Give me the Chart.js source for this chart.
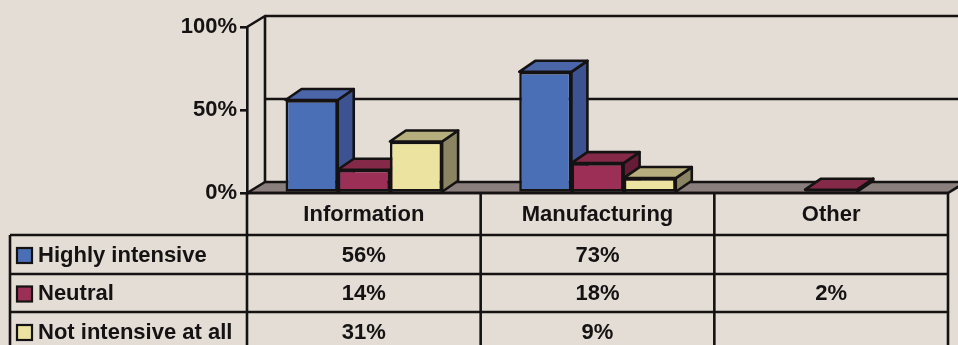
<!DOCTYPE html>
<html>
<head>
<meta charset="utf-8">
<script src="https://cdn.jsdelivr.net/npm/chart.js@4.4.0/dist/chart.umd.min.js"></script>
<style>
  html, body { margin: 0; padding: 0; background: #e4ddd5; }
  #wrap { width: 958px; height: 345px; }
</style>
</head>
<body>
<div id="wrap"><canvas id="barChart" width="958" height="345"></canvas></div>
<script>
    "use strict";

    var categories = ["Information", "Manufacturing", "Other"];
    var seriesNames = ["Highly intensive", "Neutral", "Not intensive at all"];
    var highlyIntensive = [56, 73, null];
    var neutral = [14, 18, 2];
    var notIntensive = [31, 9, null];
    var yTicks = [0, 50, 100];

    var ink = "#141212";
    var lw = 2.6;
    var font = "bold 22px 'Liberation Sans', Arial, sans-serif";
    // front, top, side
    var palette = [
        ["#4b6fb6", "#4a65a8", "#3d5290"],
        ["#9b2f55", "#842947", "#661c36"],
        ["#ebe39f", "#b6ae7d", "#8b8462"]
    ];
    var depth = { dx: 16, dy: 11 };
    var wall = { dx: 18, dy: 11 };

    function poly(ctx, pts, fill) {
        ctx.beginPath();
        ctx.moveTo(pts[0][0], pts[0][1]);
        for (var i = 1; i < pts.length; i++) ctx.lineTo(pts[i][0], pts[i][1]);
        ctx.closePath();
        if (fill) { ctx.fillStyle = fill; ctx.fill(); }
        ctx.stroke();
    }

    var frame3d = {
        id: "frame3d",
        beforeDatasetsDraw: function (chart) {
            var ctx = chart.ctx, a = chart.chartArea, ys = chart.scales.y;
            var y0 = ys.getPixelForValue(0);
            ctx.save();
            ctx.strokeStyle = ink;
            ctx.lineWidth = lw;
            ctx.lineJoin = "round";
            // floor
            poly(ctx, [[a.left, y0], [a.left + wall.dx, y0 - wall.dy],
                [a.right + wall.dx, y0 - wall.dy], [a.right, y0]], "#8a7f7d");
            // back grid lines
            yTicks.forEach(function (t) {
                if (t === 0) return;
                var y = ys.getPixelForValue(t) - wall.dy;
                ctx.beginPath();
                ctx.moveTo(a.left + wall.dx, y);
                ctx.lineTo(chart.width, y);
                ctx.stroke();
            });
            // side wall
            var yTop = ys.getPixelForValue(100);
            ctx.beginPath();
            ctx.moveTo(a.left + wall.dx, y0 - wall.dy);
            ctx.lineTo(a.left + wall.dx, yTop - wall.dy);
            ctx.lineTo(a.left, yTop);
            ctx.stroke();

            // bar top and side faces
            chart.data.datasets.forEach(function (ds, di) {
                var meta = chart.getDatasetMeta(di);
                meta.data.forEach(function (bar, i) {
                    if (ds.data[i] == null) return;
                    var p = bar.getProps(["x", "y", "base", "width"], true);
                    var l = p.x - p.width / 2, r = p.x + p.width / 2;
                    var dx = depth.dx, dy = depth.dy;
                    poly(ctx, [[r, p.y], [r + dx, p.y - dy], [r + dx, p.base - dy], [r, p.base]], palette[di][2]);
                    poly(ctx, [[l, p.y], [l + dx, p.y - dy], [r + dx, p.y - dy], [r, p.y]], palette[di][1]);
                });
            });
            ctx.restore();
        },
        afterDraw: function (chart) {
            var ctx = chart.ctx, a = chart.chartArea, xs = chart.scales.x;
            var top = chart.scales.y.getPixelForValue(0);
            var rows = [top, 235, 274, 312, 351];
            var cw = (a.right - a.left) / categories.length;
            var legendLeft = 10;
            ctx.save();
            ctx.strokeStyle = ink;
            ctx.lineWidth = lw;
            // horizontal lines
            ctx.beginPath();
            ctx.moveTo(a.left, rows[0]); ctx.lineTo(a.right, rows[0]);
            for (var r = 1; r < rows.length; r++) {
                ctx.moveTo(legendLeft, rows[r]); ctx.lineTo(a.right, rows[r]);
            }
            // vertical lines
            for (var c = 0; c <= categories.length; c++) {
                var x = a.left + c * cw;
                ctx.moveTo(x, rows[0]); ctx.lineTo(x, chart.height);
            }
            ctx.moveTo(legendLeft, rows[1]); ctx.lineTo(legendLeft, chart.height);
            ctx.stroke();

            ctx.font = font;
            ctx.fillStyle = ink;
            ctx.textBaseline = "middle";
            ctx.textAlign = "center";
            categories.forEach(function (cat, i) {
                ctx.fillText(cat, xs.getPixelForValue(i), (rows[0] + rows[1]) / 2 + 1);
            });
            chart.data.datasets.forEach(function (ds, di) {
                var yc = (rows[di + 1] + rows[di + 2]) / 2 + 1;
                ctx.textAlign = "center";
                ds.data.forEach(function (v, i) {
                    if (v == null) return;
                    ctx.fillText(v + "%", xs.getPixelForValue(i), yc);
                });
                // legend key
                ctx.fillStyle = palette[di][0];
                ctx.fillRect(17, yc - 7.5, 15, 15);
                ctx.lineWidth = 2.2;
                ctx.strokeRect(17, yc - 7.5, 15, 15);
                ctx.fillStyle = ink;
                ctx.textAlign = "left";
                ctx.fillText(ds.label, 38, yc);
            });
            ctx.restore();
        }
    };

    var barData = {
        labels: categories,
        datasets: [highlyIntensive, neutral, notIntensive].map(function (d, i) {
            return {
                label: seriesNames[i],
                data: d,
                backgroundColor: palette[i][0],
                borderColor: ink,
                borderWidth: lw,
                borderSkipped: false
            };
        })
    };

    var barOptions = {
        responsive: false,
        animation: false,
        layout: { padding: { top: 27, bottom: 152, right: 10, left: 0 } },
        categoryPercentage: 0.67,
        barPercentage: 1,
        plugins: { legend: { display: false }, tooltip: { enabled: false } },
        scales: {
            x: { display: false },
            y: {
                min: 0,
                max: 100,
                afterFit: function (s) { s.width = 247; },
                afterBuildTicks: function (s) {
                    s.ticks = yTicks.map(function (v) { return { value: v }; });
                },
                border: { display: true, color: ink, width: lw },
                grid: { drawOnChartArea: false, drawTicks: true, tickLength: 7, color: ink, lineWidth: lw },
                ticks: {
                    padding: 3,
                    color: ink,
                    font: { family: "'Liberation Sans', Arial, sans-serif", size: 22, weight: "bold" },
                    callback: function (v) { return v + "%"; }
                }
            }
        }
    };

    var ctx = document.getElementById("barChart").getContext("2d");
    var barChart = new Chart(ctx, {
        type: "bar",
        data: barData,
        options: barOptions,
        plugins: [frame3d]
    });
</script>
</body>
</html>
